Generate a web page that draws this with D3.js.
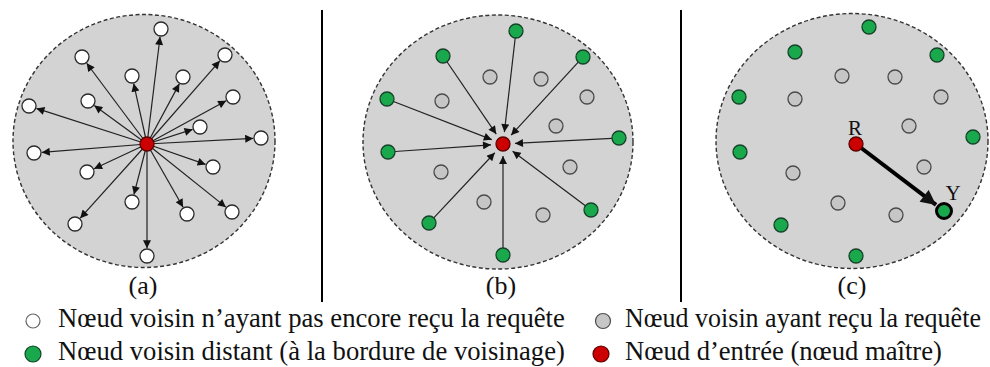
<!DOCTYPE html>
<html><head><meta charset="utf-8">
<script src="https://cdn.jsdelivr.net/npm/d3@7"></script>
<style>
html,body{margin:0;padding:0;background:#fff;}
svg{display:block;}
</style></head>
<body>
<svg id="chart" width="990" height="367" font-family="Liberation Serif"></svg>
<script>
// ---- data (node coordinates relative to entry node, in diagram units) ----
const panelLabels = ["(a)", "(b)", "(c)"];
const nodesA_white = [[14,-115],[-65,-87],[78,-89],[-15,-68],[36,-67],[-59,-43],[86,-47],[-118,-38],[53,-17],[114,-6],[-113,9],[-60,28],[66,23],[-15,58],[40,70],[85,68],[-72,80],[0,112]];
const nodesB_green = [[13,-113],[-60,-88],[80,-87],[-116,-45],[116,-6],[-115,8],[-74,79],[88,66],[0,111]];
const nodesB_gray  = [[-13,-67],[38,-65],[-61,-43],[84,-47],[53,-18],[67,23],[-62,28],[-19,58],[40,71]];
const nodesC_green = [[13,-117],[-61,-92],[81,-89],[-117,-47],[117,-7],[-116,8],[-75,81],[0,112]];
const nodesC_gray  = [[-14,-68],[39,-67],[-61,-45],[85,-47],[53,-18],[68,23],[-63,29],[-18,59],[40,71]];
const nodeC_target = [88,67];
const nodeC_labels = ["R", "Y"];
const legendLabels = [
  "Nœud voisin n’ayant pas encore reçu la requête",
  "Nœud voisin ayant reçu la requête",
  "Nœud voisin distant (à la bordure de voisinage)",
  "Nœud d’entrée (nœud maître)"
];
const legendKinds = ["white","gray","green","red"];

// ---- styles / layout ----
const FONT = "Liberation Serif";
const COL = {
  area:"#d3d3d3", white:"#ffffff", gray:"#c6c6c6", green:"#19a84c", red:"#cc0000",
  whiteStroke:"#2a2a2a", grayStroke:"#4a4a4a", greenStroke:"#18402a", redStroke:"#5a0000"
};
const panels = [
  {cx:147, cy:144, ex:-3, ey:-3, rx:131, ry:126.5, lx:143},
  {cx:503, cy:144, ex:-5, ey:-2, rx:135, ry:127, lx:501},
  {cx:856, cy:144, ex:-4, ey:-3, rx:136, ry:127.5, lx:852}
];
const NR = 7, RR = 7;

const svg = d3.select("#chart");
const defs = svg.append("defs");
function marker(id, w, h){
  defs.append("marker").attr("id", id)
    .attr("viewBox","0 0 10 10").attr("refX",10).attr("refY",5)
    .attr("markerUnits","userSpaceOnUse")
    .attr("markerWidth",w).attr("markerHeight",h)
    .attr("orient","auto")
    .append("path").attr("d","M0,0L10,5L0,10Z").attr("fill","#111");
}
marker("arr", 10, 8);
marker("arrBig", 16, 15);

function scales(p){
  const x = d3.scaleLinear().domain([-150,150]).range([p.cx-150, p.cx+150]);
  const y = d3.scaleLinear().domain([-150,150]).range([p.cy-150, p.cy+150]);
  return {x,y};
}

function area(g, p, s){
  g.append("ellipse")
    .attr("cx", s.x(p.ex)).attr("cy", s.y(p.ey))
    .attr("rx", p.rx).attr("ry", p.ry)
    .attr("fill", COL.area).attr("stroke","#333")
    .attr("stroke-width",1.4).attr("stroke-dasharray","4,2.5");
}
function nodes(g, data, s, kind, r){
  g.selectAll(null).data(data).enter().append("circle")
    .attr("cx", d=>s.x(d[0])).attr("cy", d=>s.y(d[1])).attr("r", r||NR)
    .attr("fill", COL[kind]).attr("stroke", COL[kind+"Stroke"]).attr("stroke-width",1.3);
}
function unit(d){ const L = Math.hypot(d[0],d[1]); return [d[0]/L, d[1]/L, L]; }

// Panel separators
[322, 681].forEach(x=>{
  svg.append("line").attr("x1",x).attr("x2",x).attr("y1",10).attr("y2",302)
    .attr("stroke","#000").attr("stroke-width",2);
});

// ---- Panel A ----
{
  const p = panels[0], s = scales(p), g = svg.append("g");
  area(g,p,s);
  g.selectAll(null).data(nodesA_white).enter().append("line")
    .attr("x1", s.x(0)).attr("y1", s.y(0))
    .attr("x2", d=>{const u=unit(d); return s.x(d[0]-u[0]*(NR+0.8));})
    .attr("y2", d=>{const u=unit(d); return s.y(d[1]-u[1]*(NR+0.8));})
    .attr("stroke","#222").attr("stroke-width",1.2).attr("marker-end","url(#arr)");
  nodes(g, nodesA_white, s, "white");
  nodes(g, [[0,0]], s, "red", RR);
}
// ---- Panel B ----
{
  const p = panels[1], s = scales(p), g = svg.append("g");
  area(g,p,s);
  nodes(g, nodesB_gray, s, "gray");
  g.selectAll(null).data(nodesB_green).enter().append("line")
    .attr("x1", d=>{const u=unit(d); return s.x(d[0]-u[0]*NR);})
    .attr("y1", d=>{const u=unit(d); return s.y(d[1]-u[1]*NR);})
    .attr("x2", d=>{const u=unit(d); return s.x(u[0]*12);})
    .attr("y2", d=>{const u=unit(d); return s.y(u[1]*12);})
    .attr("stroke","#222").attr("stroke-width",1.2).attr("marker-end","url(#arr)");
  nodes(g, nodesB_green, s, "green");
  nodes(g, [[0,0]], s, "red", RR);
}
// ---- Panel C ----
{
  const p = panels[2], s = scales(p), g = svg.append("g");
  area(g,p,s);
  nodes(g, nodesC_gray, s, "gray");
  nodes(g, nodesC_green, s, "green");
  const u = unit(nodeC_target);
  g.append("line")
    .attr("x1", s.x(0)).attr("y1", s.y(0))
    .attr("x2", s.x(nodeC_target[0]-u[0]*10)).attr("y2", s.y(nodeC_target[1]-u[1]*10))
    .attr("stroke","#000").attr("stroke-width",4).attr("marker-end","url(#arrBig)");
  g.append("circle").attr("cx", s.x(nodeC_target[0])).attr("cy", s.y(nodeC_target[1]))
    .attr("r",7.5).attr("fill",COL.green).attr("stroke","#000").attr("stroke-width",3);
  nodes(g, [[0,0]], s, "red", RR);
  g.append("text").attr("font-family",FONT).attr("x", s.x(-1)).attr("y", s.y(-9)).attr("text-anchor","middle")
    .attr("font-size",21).attr("fill","#111").text(nodeC_labels[0]);
  g.append("text").attr("font-family",FONT).attr("x", s.x(nodeC_target[0]+9)).attr("y", s.y(nodeC_target[1]-11)).attr("text-anchor","middle")
    .attr("font-size",21).attr("fill","#111").text(nodeC_labels[1]);
}

// Panel labels
panels.forEach((p,i)=>{
  svg.append("text").attr("font-family",FONT).attr("x",p.lx).attr("y",294).attr("text-anchor","middle")
    .attr("font-size",26).attr("fill","#111").text(panelLabels[i]);
});

// ---- Legend ----
const legPos = [
  {cx:33, cy:321, r:7,  tx:58,  ty:327, tw:507},
  {cx:603, cy:321, r:7.5, tx:625, ty:327, tw:356},
  {cx:33, cy:354, r:8,  tx:58,  ty:360, tw:507},
  {cx:601, cy:354, r:8,  tx:625, ty:360, tw:317}
];
const leg = svg.append("g");
legendLabels.forEach((lab,i)=>{
  const q = legPos[i], k = legendKinds[i];
  leg.append("circle").attr("cx",q.cx).attr("cy",q.cy).attr("r",q.r)
    .attr("fill",COL[k]).attr("stroke", k==="white" ? "#666" : COL[k+"Stroke"]).attr("stroke-width",1.2);
  const tg = leg.append("g");
  const t = tg.append("text").attr("font-family",FONT).attr("x",0).attr("y",0).attr("font-size",28)
    .attr("fill","#111").text(lab);
  const natural = t.node().getComputedTextLength();
  tg.attr("transform", `translate(${q.tx},${q.ty}) scale(${q.tw/natural},1)`);
});
</script>
</body></html>
